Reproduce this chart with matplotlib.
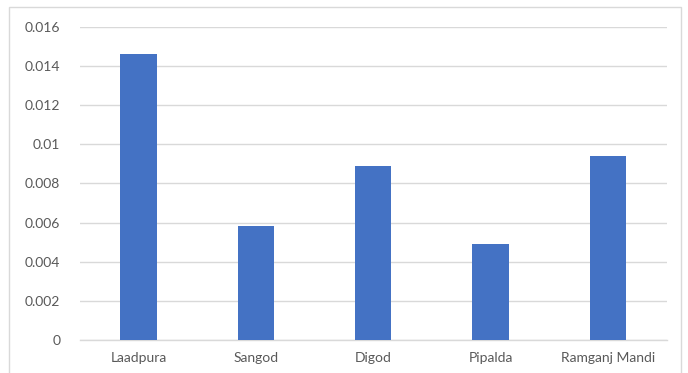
import matplotlib.pyplot as plt
from matplotlib.patches import Rectangle

locais = ['Laadpura', 'Sangod', 'Digod', 'Pipalda', 'Ramganj Mandi']
valores = [0.0146, 0.00583, 0.00888, 0.0049, 0.00938]
yticks = [0, 0.002, 0.004, 0.006, 0.008, 0.01, 0.012, 0.014, 0.016]
ytick_labels = ['0', '0.002', '0.004', '0.006', '0.008', '0.01', '0.012', '0.014', '0.016']

plt.rcParams['font.family'] = ['Lato', 'DejaVu Sans']

fig = plt.figure(figsize=(6.88, 3.73), dpi=100)
ax = fig.add_axes([0.116, 0.0885, 0.853, 0.8395])

ax.bar(range(len(locais)), valores, width=0.31, color='#4472C4', zorder=3)
ax.set_xlim(-0.5, len(locais) - 0.5)
ax.set_ylim(0, 0.016)
ax.set_yticks(yticks)
ax.set_yticklabels(ytick_labels)
ax.set_xticks(range(len(locais)))
ax.set_xticklabels(locais)
ax.tick_params(axis='both', length=0, colors='#595959', labelsize=10)
ax.tick_params(axis='y', pad=14)
ax.tick_params(axis='x', pad=9)
ax.grid(axis='y', color='#d9d9d9', linewidth=1, zorder=0)
for s in ['top', 'right', 'left']:
    ax.spines[s].set_visible(False)
ax.spines['bottom'].set_color('#d9d9d9')
ax.spines['bottom'].set_linewidth(1)

fig.patches.append(Rectangle((0.013, -0.1), 0.977, 1.081, transform=fig.transFigure,
                             fill=False, edgecolor='#d9d9d9', linewidth=1))

fig.savefig('out.png', dpi=100)
